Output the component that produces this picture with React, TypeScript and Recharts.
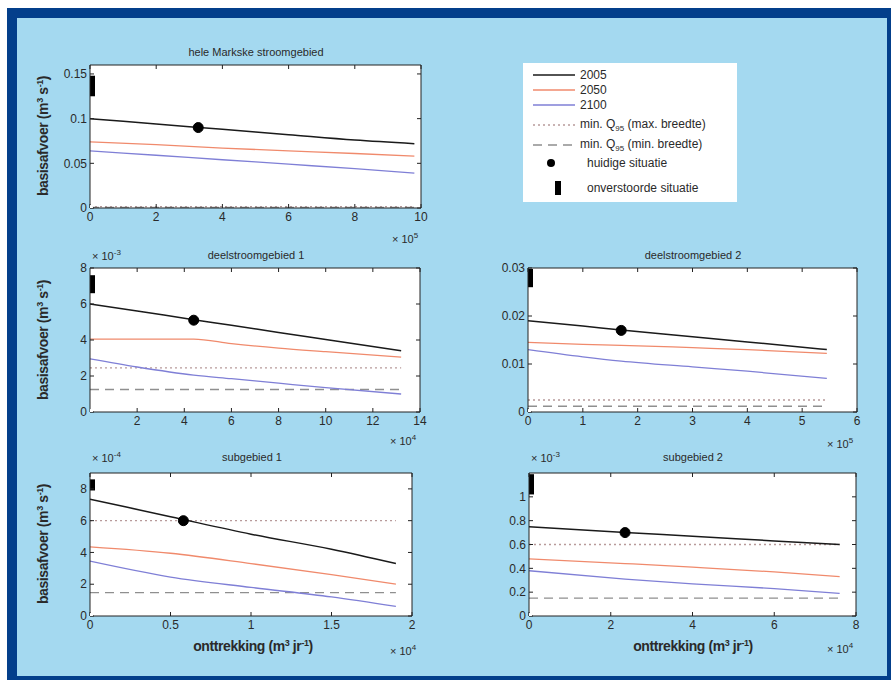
import React from "react";
import { LineChart, Line, XAxis, YAxis, CartesianGrid } from "recharts";

// hele Markske stroomgebied  (x in 10^5 m3/jr, y in m3/s)
const p1X = [0, 2, 4, 6, 8, 9.8];
const p1Y2005 = [0.1, 0.094, 0.088, 0.082, 0.076, 0.072];
const p1Y2050 = [0.074, 0.071, 0.067, 0.064, 0.061, 0.058];
const p1Y2100 = [0.064, 0.059, 0.054, 0.049, 0.044, 0.039];
const p1Q = [0.0015, 0.0008]; // min Q95 max / min breedte
const p1Now = [3.27, 0.09];
const p1Nat = [0.125, 0.148];

// deelstroomgebied 1  (x in 10^4, y in 10^-3)
const p2X = [0, 2, 4.4, 6, 8, 10, 13.2];
const p2Y2005 = [6.0, 5.61, 5.13, 4.82, 4.42, 4.03, 3.4];
const p2Y2050 = [4.05, 4.05, 4.05, 3.8, 3.55, 3.35, 3.05];
const p2Y2100 = [2.95, 2.5, 2.05, 1.85, 1.6, 1.35, 1.0];
const p2Q = [2.45, 1.25];
const p2Now = [4.4, 5.1];
const p2Nat = [6.6, 7.6];

// deelstroomgebied 2  (x in 10^5, y in m3/s)
const p3X = [0, 1, 1.7, 3, 4, 5.45];
const p3Y2005 = [0.019, 0.0179, 0.0171, 0.0157, 0.0146, 0.013];
const p3Y2050 = [0.0145, 0.0141, 0.0139, 0.0134, 0.013, 0.0122];
const p3Y2100 = [0.013, 0.0115, 0.0106, 0.0094, 0.0085, 0.007];
const p3Q = [0.0025, 0.0012];
const p3Now = [1.7, 0.017];
const p3Nat = [0.026, 0.0298];

// subgebied 1  (x in 10^4, y in 10^-4)
const p4X = [0, 0.5, 1.0, 1.5, 1.9];
const p4Y2005 = [7.35, 6.25, 5.15, 4.2, 3.3];
const p4Y2050 = [4.35, 3.95, 3.3, 2.6, 2.0];
const p4Y2100 = [3.45, 2.45, 1.8, 1.2, 0.6];
const p4Q = [6.0, 1.47];
const p4Now = [0.58, 6.0];
const p4Nat = [7.9, 8.6];

// subgebied 2  (x in 10^4, y in 10^-3)
const p5X = [0, 2.35, 4, 6, 7.6];
const p5Y2005 = [0.75, 0.7, 0.67, 0.63, 0.6];
const p5Y2050 = [0.48, 0.44, 0.41, 0.37, 0.33];
const p5Y2100 = [0.38, 0.31, 0.27, 0.23, 0.19];
const p5Q = [0.6, 0.15];
const p5Now = [2.35, 0.7];
const p5Nat = [1.02, 1.19];

const C2005 = "#1a1a1a";
const C2050 = "#f08a6c";
const C2100 = "#7f7fd6";
const CDOT = "#b89a9a";
const CDASH = "#8f8f8f";
const FONT = "'Liberation Sans', Arial, sans-serif";
const TXT = "#2a2a2a";

const pts = (xs: number[], ys: number[]) => xs.map((x, i) => ({ x, y: ys[i] }));
const fmt = (v: number) => String(+v.toFixed(4));
const blank = () => "";

interface PanelProps {
  left: number; top: number; w: number; h: number;
  xDomain: number[]; xTicks: number[];
  yDomain: number[]; yTicks: number[];
  xs: number[]; s2005: number[]; s2050: number[]; s2100: number[];
  q: number[]; now: number[]; nat: number[];
}

const Panel: React.FC<PanelProps> = (p) => {
  const ml = 50, mt = 10, mr = 12, xh = 30;
  const xEnd = p.xs[p.xs.length - 1];
  const axisStroke = { stroke: "#222", strokeWidth: 1 };
  const tickStyle = { fontSize: 12, fill: TXT, fontFamily: FONT };
  return (
    <div style={{ position: "absolute", left: p.left - ml, top: p.top - mt }}>
      <LineChart width={p.w + ml + mr} height={p.h + mt + xh}
        margin={{ top: mt, right: mr, bottom: 0, left: 0 }}>
        <CartesianGrid fill="#fff" stroke="none" horizontal={false} vertical={false} />
        <XAxis type="number" dataKey="x" domain={p.xDomain} ticks={p.xTicks} interval={0}
          height={xh} tickSize={-4} tickMargin={8} tick={tickStyle} tickFormatter={fmt}
          axisLine={axisStroke} tickLine={axisStroke} allowDataOverflow />
        <XAxis xAxisId="top" orientation="top" type="number" dataKey="x" domain={p.xDomain} ticks={p.xTicks}
          interval={0} height={1} tickSize={-4} tickFormatter={blank} axisLine={axisStroke}
          tickLine={axisStroke} allowDataOverflow />
        <YAxis type="number" dataKey="y" domain={p.yDomain} ticks={p.yTicks} interval={0}
          width={ml} tickSize={-4} tickMargin={7} tick={tickStyle} tickFormatter={fmt}
          axisLine={axisStroke} tickLine={axisStroke} allowDataOverflow />
        <YAxis yAxisId="right" orientation="right" type="number" dataKey="y" domain={p.yDomain} ticks={p.yTicks}
          interval={0} width={1} tickSize={-4} tickFormatter={blank} axisLine={axisStroke}
          tickLine={axisStroke} allowDataOverflow />
        <Line data={pts([0, xEnd], [p.q[0], p.q[0]])} dataKey="y" stroke={CDOT} strokeWidth={1.3}
          strokeDasharray="2 3" dot={false} isAnimationActive={false} />
        <Line data={pts([0, xEnd], [p.q[1], p.q[1]])} dataKey="y" stroke={CDASH} strokeWidth={1.3}
          strokeDasharray="9 6" dot={false} isAnimationActive={false} />
        <Line data={pts(p.xs, p.s2100)} dataKey="y" type="monotone" stroke={C2100} strokeWidth={1.3}
          dot={false} isAnimationActive={false} />
        <Line data={pts(p.xs, p.s2050)} dataKey="y" type="monotone" stroke={C2050} strokeWidth={1.3}
          dot={false} isAnimationActive={false} />
        <Line data={pts(p.xs, p.s2005)} dataKey="y" type="monotone" stroke={C2005} strokeWidth={1.5}
          dot={false} isAnimationActive={false} />
        <Line data={pts([p.now[0]], [p.now[1]])} dataKey="y" stroke="none"
          dot={{ r: 5, fill: "#000", stroke: "#000", strokeWidth: 1 }} isAnimationActive={false} />
        <Line data={pts([0, 0], p.nat)} dataKey="y" stroke="#000" strokeWidth={10}
          strokeLinecap="butt" dot={false} isAnimationActive={false} />
        {/* hidden series so the mirrored box axes get used */}
        <Line xAxisId="top" yAxisId="right" data={pts([0], [p.yDomain[0]])} dataKey="y" stroke="none"
          dot={false} isAnimationActive={false} legendType="none" />
      </LineChart>
    </div>
  );
};

const abs = (left: number, top: number, extra: React.CSSProperties = {}): React.CSSProperties => ({
  position: "absolute", left, top, fontFamily: FONT, color: TXT, whiteSpace: "nowrap", ...extra,
});

const Title: React.FC<{ cx: number; cy: number; text: string }> = ({ cx, cy, text }) => (
  <div style={abs(cx, cy, { fontSize: 11, transform: "translate(-50%,-50%)" })}>{text}</div>
);

const Mult: React.FC<{ x: number; y: number; exp: string }> = ({ x, y, exp }) => (
  <div style={abs(x, y, { fontSize: 11, transform: "translateY(-50%)" })}>
    × 10<sup style={{ fontSize: 8 }}>{exp}</sup>
  </div>
);

const YLabel: React.FC<{ cy: number }> = ({ cy }) => (
  <div style={abs(43, cy, { fontSize: 14, fontWeight: "bold", letterSpacing: -0.4,
    transform: "translate(-50%,-50%) rotate(-90deg)" })}>
    basisafvoer (m<sup style={{ fontSize: 9 }}>3</sup> s<sup style={{ fontSize: 9 }}>-1</sup>)
  </div>
);

const XLabel: React.FC<{ cx: number }> = ({ cx }) => (
  <div style={abs(cx, 646, { fontSize: 14, fontWeight: "bold", letterSpacing: -0.4,
    transform: "translate(-50%,-50%)" })}>
    onttrekking (m<sup style={{ fontSize: 9 }}>3</sup> jr<sup style={{ fontSize: 9 }}>-1</sup>)
  </div>
);

const LegendRow: React.FC<{ y: number; kind: string; children: React.ReactNode }> = ({ y, kind, children }) => {
  let sample: React.ReactNode = null;
  if (kind === "2005") sample = <line x1={2} x2={44} y1={6} y2={6} stroke={C2005} strokeWidth={1.3} />;
  if (kind === "2050") sample = <line x1={2} x2={44} y1={6} y2={6} stroke={C2050} strokeWidth={1.3} />;
  if (kind === "2100") sample = <line x1={2} x2={44} y1={6} y2={6} stroke={C2100} strokeWidth={1.3} />;
  if (kind === "dot") sample = <line x1={2} x2={44} y1={6} y2={6} stroke={CDOT} strokeWidth={1.3} strokeDasharray="2 3" />;
  if (kind === "dash") sample = <line x1={2} x2={44} y1={6} y2={6} stroke={CDASH} strokeWidth={1.3} strokeDasharray="9 6" />;
  if (kind === "now") sample = <circle cx={20} cy={6} r={4} fill="#000" />;
  if (kind === "nat") sample = <rect x={24} y={-1} width={6} height={14} fill="#000" />;
  return (
    <div style={abs(8, y, { height: 12, display: "flex", alignItems: "center", fontSize: 12 })}>
      <svg width={48} height={12} style={{ overflow: "visible" }}>{sample}</svg>
      <span style={{ marginLeft: kind === "now" || kind === "nat" ? 8 : 1 }}>{children}</span>
    </div>
  );
};

const Q95 = (w: string) => (
  <>min. Q<sub style={{ fontSize: 8 }}>95</sub> ({w} breedte)</>
);

export default function App() {
  return (
    <div style={{ position: "relative", width: 891, height: 680, background: "#fff", overflow: "hidden" }}>
      <style>{"body{margin:0}"}</style>
      <div style={{ position: "absolute", left: 7, top: 8, width: 884, height: 672, background: "#033f8b" }} />
      <div style={{ position: "absolute", left: 17, top: 18, width: 870, height: 658, background: "#a4d9f0" }} />

      <Panel left={90} top={64} w={332} h={144} xDomain={[0, 10]} xTicks={[0, 2, 4, 6, 8, 10]}
        yDomain={[0, 0.16]} yTicks={[0, 0.05, 0.1, 0.15]} xs={p1X} s2005={p1Y2005} s2050={p1Y2050}
        s2100={p1Y2100} q={p1Q} now={p1Now} nat={p1Nat} />
      <Panel left={90} top={267} w={331} h={145} xDomain={[0, 14]} xTicks={[2, 4, 6, 8, 10, 12, 14]}
        yDomain={[0, 8]} yTicks={[0, 2, 4, 6, 8]} xs={p2X} s2005={p2Y2005} s2050={p2Y2050}
        s2100={p2Y2100} q={p2Q} now={p2Now} nat={p2Nat} />
      <Panel left={528} top={267} w={330} h={145} xDomain={[0, 6]} xTicks={[0, 1, 2, 3, 4, 5, 6]}
        yDomain={[0, 0.03]} yTicks={[0, 0.01, 0.02, 0.03]} xs={p3X} s2005={p3Y2005} s2050={p3Y2050}
        s2100={p3Y2100} q={p3Q} now={p3Now} nat={p3Nat} />
      <Panel left={90} top={472} w={323} h={144} xDomain={[0, 2]} xTicks={[0, 0.5, 1, 1.5, 2]}
        yDomain={[0, 9]} yTicks={[0, 2, 4, 6, 8]} xs={p4X} s2005={p4Y2005} s2050={p4Y2050}
        s2100={p4Y2100} q={p4Q} now={p4Now} nat={p4Nat} />
      <Panel left={529} top={472} w={328} h={144} xDomain={[0, 8]} xTicks={[0, 2, 4, 6, 8]}
        yDomain={[0, 1.2]} yTicks={[0, 0.2, 0.4, 0.6, 0.8, 1]} xs={p5X} s2005={p5Y2005} s2050={p5Y2050}
        s2100={p5Y2100} q={p5Q} now={p5Now} nat={p5Nat} />

      <Title cx={256} cy={52} text="hele Markske stroomgebied" />
      <Title cx={256} cy={255} text="deelstroomgebied 1" />
      <Title cx={693} cy={255} text="deelstroomgebied 2" />
      <Title cx={252} cy={457} text="subgebied 1" />
      <Title cx={693} cy={457} text="subgebied 2" />

      <Mult x={392} y={238} exp="5" />
      <Mult x={92} y={255} exp="-3" />
      <Mult x={390} y={440} exp="4" />
      <Mult x={827} y={443} exp="5" />
      <Mult x={92} y={457} exp="-4" />
      <Mult x={531} y={457} exp="-3" />
      <Mult x={390} y={650} exp="4" />
      <Mult x={827} y={648} exp="4" />

      <YLabel cy={136} />
      <YLabel cy={340} />
      <YLabel cy={544} />
      <XLabel cx={253} />
      <XLabel cx={693} />

      <div style={{ position: "absolute", left: 523, top: 63, width: 214, height: 139, background: "#fff" }}>
        <LegendRow y={6} kind="2005">2005</LegendRow>
        <LegendRow y={21} kind="2050">2050</LegendRow>
        <LegendRow y={36} kind="2100">2100</LegendRow>
        <LegendRow y={56} kind="dot">{Q95("max.")}</LegendRow>
        <LegendRow y={76} kind="dash">{Q95("min.")}</LegendRow>
        <LegendRow y={94} kind="now">huidige situatie</LegendRow>
        <LegendRow y={119} kind="nat">onverstoorde situatie</LegendRow>
      </div>
    </div>
  );
}
